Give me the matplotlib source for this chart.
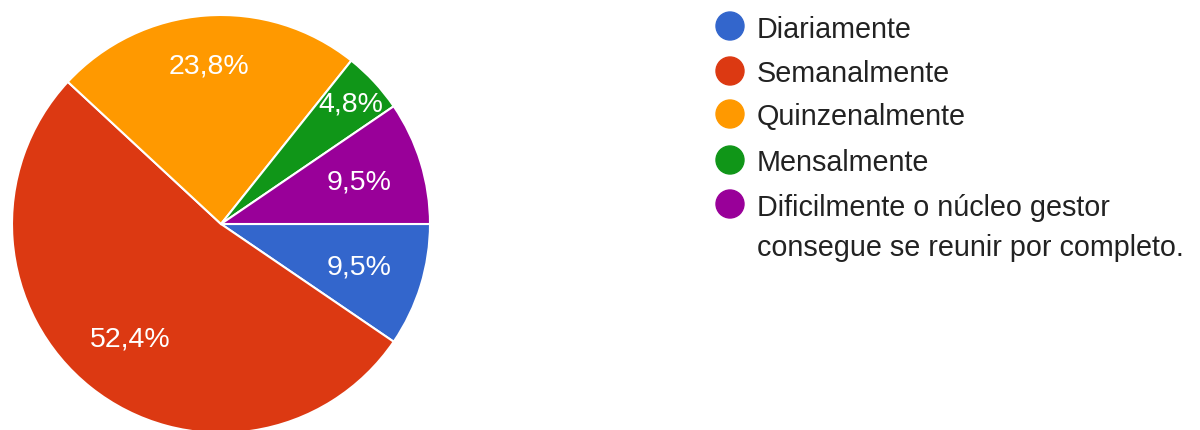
import numpy as np
import matplotlib
matplotlib.use('Agg')
import matplotlib.pyplot as plt
from matplotlib.patches import Ellipse

labels = ['Diariamente', 'Semanalmente', 'Quinzenalmente', 'Mensalmente',
          'Dificilmente o núcleo gestor\nconsegue se reunir por completo.']
counts = [2, 11, 5, 1, 2]
colors = ['#3366cc', '#dc3912', '#ff9900', '#109618', '#990099']
# distance of each percentage label from centre (fraction of radius)
label_dist = [0.69, 0.70, 0.76, 0.85, 0.69]

W, H = 1200, 431
cx, cy, r = 221, 225, 209

fig = plt.figure(figsize=(W / 100, H / 100), dpi=100)
ax = fig.add_axes([0, 0, 1, 1])

wedges, _, pcts = ax.pie(counts, colors=colors, startangle=0, counterclock=False,
                         autopct=lambda p: f'{p:.1f}%'.replace('.', ','),
                         wedgeprops=dict(edgecolor='white', linewidth=1.5),
                         textprops=dict(color='white', fontsize=20.5,
                                        family=['Liberation Sans', 'DejaVu Sans']))

# move the labels out to the positions used in the original
for w, t, d in zip(wedges, pcts, label_dist):
    ang = np.deg2rad((w.theta1 + w.theta2) / 2)
    t.set_position((d * np.cos(ang), d * np.sin(ang)))

ax.set_xlim(-cx / r, (W - cx) / r)
ax.set_ylim(-(H - cy) / r, cy / r)
ax.set_aspect('equal')
ax.axis('off')

# legend drawn by hand so the marker sits on the first line
row_y = [27, 72, 115, 161, 205]
for lab, col, y in zip(labels, colors, row_y):
    fig.patches.append(Ellipse((730 / W, 1 - y / H), 28 / W, 28 / H, color=col,
                               transform=fig.transFigure))
    fig.text(757 / W, 1 - (y - 11.5) / H, lab, fontsize=20.7, color='#222222',
             va='top', ha='left', linespacing=1.55,
             family=['Liberation Sans', 'DejaVu Sans'])

fig.savefig('out.png', dpi=100)
